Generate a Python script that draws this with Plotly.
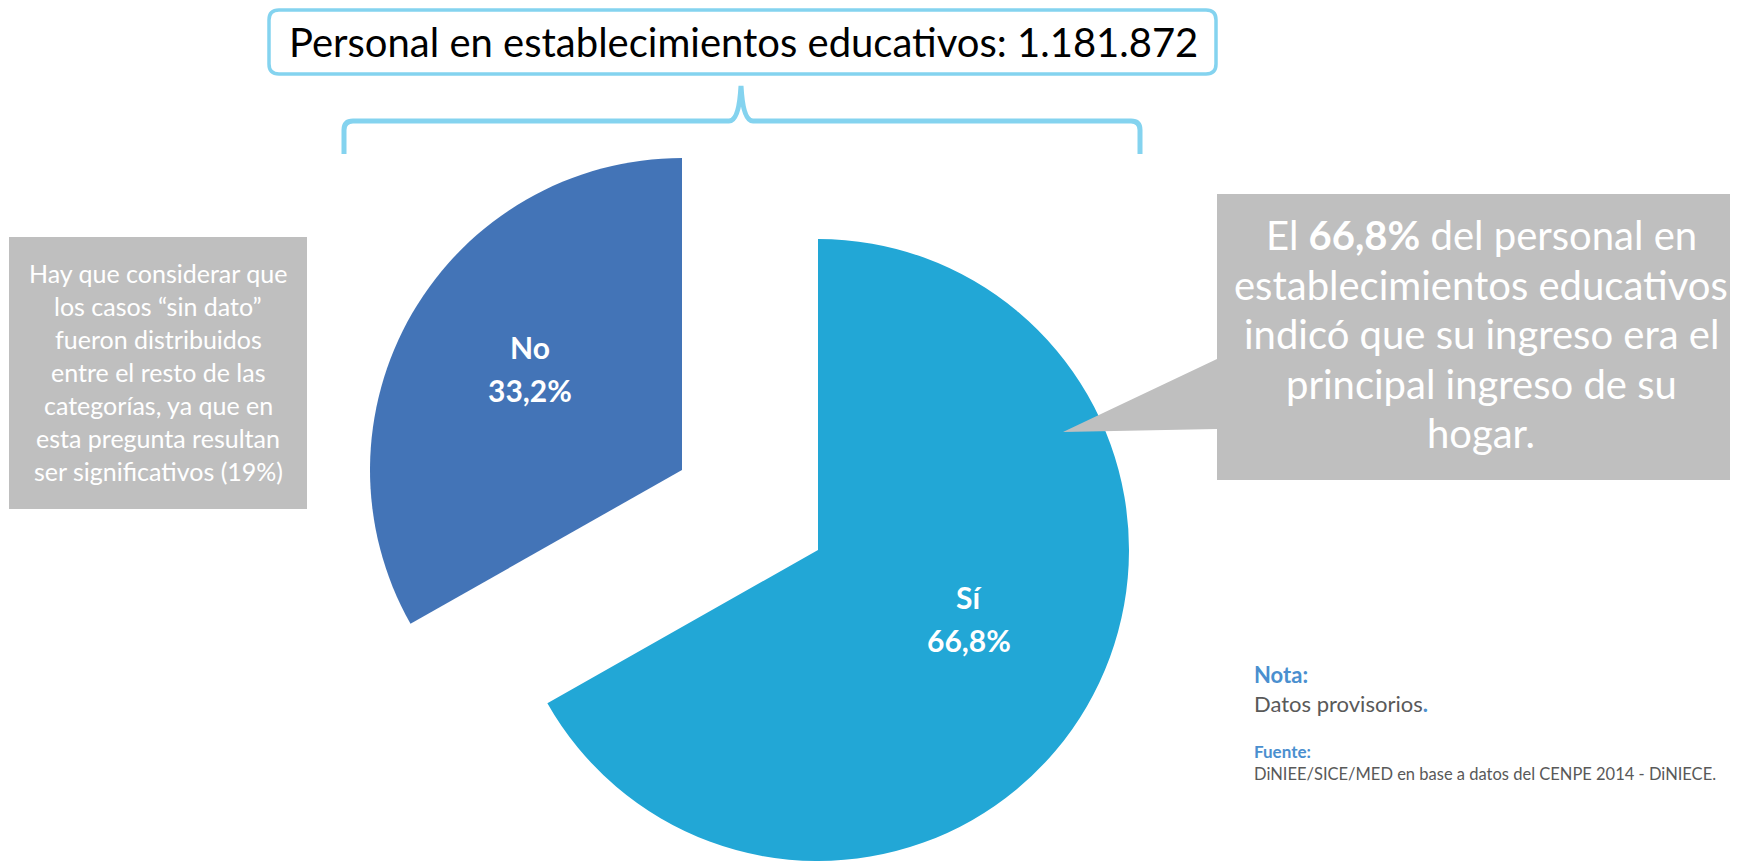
import plotly.graph_objects as go

# The page body has an 8px default margin: design in page pixels and shift.
OFF = 8
W, H = 1738 - OFF, 861 - OFF

# ---- data ----
categories = ["No", "Sí"]
values = [33.2, 66.8]
slice_colors = ["#4374b7", "#22a7d6"]
title_text = "Personal en establecimientos educativos: 1.181.872"
left_lines = [
    "Hay que considerar que",
    "los casos “sin dato”",
    "fueron distribuidos",
    "entre el resto de las",
    "categorías, ya que en",
    "esta pregunta resultan",
    "ser significativos (19%)",
]
right_lines = [
    "El <b>66,8%</b> del personal en",
    "establecimientos educativos",
    "indicó que su ingreso era el",
    "principal ingreso de su",
    "hogar.",
]
nota_title = "Nota:"
nota_text = "Datos provisorios"
fuente_title = "Fuente:"
fuente_text = "DiNIEE/SICE/MED en base a datos del CENPE 2014 - DiNIECE."


def px(x):
    return (x - OFF) / W


def py(y):
    return 1 - (y - OFF) / H


def path(points, close=True):
    s = "M " + " L ".join(f"{px(x):.5f},{py(y):.5f}" for x, y in points)
    return s + (" Z" if close else "")


FONT = "Lato"
BLUE_LINE = "#84d3ef"
GREY = "#bfbfbf"

fig = go.Figure()

total = sum(values)
# "No" starts at 12 o'clock and runs towards the left
start_rotation = -360 * values[0] / total

# Two pie traces drawn from the same data: each shows one exploded slice
pies = [
    # (visible slice index, center x, center y, radius, label x, label y) in page pixels
    (0, 682, 470, 312, 530, 347),
    (1, 818, 550, 311, 969, 597),
]
annotations = []
for idx, cx, cy, r, lx, ly in pies:
    cols = [c if i == idx else "rgba(0,0,0,0)" for i, c in enumerate(slice_colors)]
    fig.add_trace(go.Pie(
        labels=categories,
        values=values,
        sort=False,
        direction="clockwise",
        rotation=start_rotation,
        marker=dict(colors=cols, line=dict(width=0)),
        textinfo="none",
        hoverinfo="skip",
        showlegend=False,
        domain=dict(x=[px(cx - r), px(cx + r)], y=[max(0, py(cy + r)), min(1, py(cy - r))]),
    ))
    pct = f"{100 * values[idx] / total:.1f}".replace(".", ",") + "%"
    for j, t in enumerate([categories[idx], pct]):
        annotations.append(dict(text=f"<b>{t}</b>", x=px(lx), y=py(ly + j * 43), xref="paper", yref="paper",
                                showarrow=False, xanchor="center", yanchor="middle",
                                font=dict(family=FONT, size=30, color="white")))

shapes = []

# Title box (rounded)
x0, y0, x1, y1, rr = 269, 10, 1216, 74, 10
title_path = (
    f"M {px(x0+rr)},{py(y0)} L {px(x1-rr)},{py(y0)} Q {px(x1)},{py(y0)} {px(x1)},{py(y0+rr)} "
    f"L {px(x1)},{py(y1-rr)} Q {px(x1)},{py(y1)} {px(x1-rr)},{py(y1)} "
    f"L {px(x0+rr)},{py(y1)} Q {px(x0)},{py(y1)} {px(x0)},{py(y1-rr)} "
    f"L {px(x0)},{py(y0+rr)} Q {px(x0)},{py(y0)} {px(x0+rr)},{py(y0)} Z"
)
shapes.append(dict(type="path", path=title_path, xref="paper", yref="paper",
                   line=dict(color=BLUE_LINE, width=3.5), fillcolor="white", layer="above"))

# Brace
brace = (
    f"M {px(344)},{py(154)} L {px(344)},{py(130)} Q {px(344)},{py(121)} {px(353)},{py(121)} "
    f"L {px(729)},{py(121)} Q {px(739)},{py(121)} {px(741)},{py(86)} "
    f"Q {px(743)},{py(121)} {px(753)},{py(121)} "
    f"L {px(1131)},{py(121)} Q {px(1140)},{py(121)} {px(1140)},{py(130)} L {px(1140)},{py(154)}"
)
shapes.append(dict(type="path", path=brace, xref="paper", yref="paper",
                   line=dict(color=BLUE_LINE, width=5), layer="above"))

# Left grey box
shapes.append(dict(type="rect", xref="paper", yref="paper", x0=px(9), x1=px(307), y0=py(509), y1=py(237),
                   fillcolor=GREY, line=dict(width=0), layer="above"))

# Right callout with pointer
callout = path([(1217, 194), (1738, 194), (1738, 480), (1217, 480), (1217, 429),
                (1063, 432), (1217, 359)])
shapes.append(dict(type="path", path=callout, xref="paper", yref="paper",
                   fillcolor=GREY, line=dict(width=0), layer="above"))

annotations.append(dict(text=title_text, x=px(743), y=py(42), xref="paper", yref="paper",
                        showarrow=False, xanchor="center", yanchor="middle",
                        font=dict(family=FONT, size=40, color="black")))

for i, ln in enumerate(left_lines):
    annotations.append(dict(text=ln, x=px(158), y=py(273 + i * 33), xref="paper", yref="paper",
                            showarrow=False, xanchor="center", yanchor="middle",
                            font=dict(family=FONT, size=25, color="white")))

for i, ln in enumerate(right_lines):
    annotations.append(dict(text=ln, x=px(1481), y=py(235 + i * 49.5), xref="paper", yref="paper",
                            showarrow=False, xanchor="center", yanchor="middle",
                            font=dict(family=FONT, size=40, color="white")))

NOTE_BLUE = "#4a8fcf"
NOTE_X = 1252
annotations.append(dict(text=f"<b>{nota_title}</b>", x=px(NOTE_X), y=py(674), xref="paper", yref="paper",
                        showarrow=False, xanchor="left", yanchor="middle",
                        font=dict(family=FONT, size=22, color=NOTE_BLUE)))
annotations.append(dict(text=f"{nota_text}<b><span style='color:{NOTE_BLUE}'>.</span></b>",
                        x=px(NOTE_X), y=py(703), xref="paper", yref="paper",
                        showarrow=False, xanchor="left", yanchor="middle",
                        font=dict(family=FONT, size=22, color="#595959")))
annotations.append(dict(text=f"<b>{fuente_title}</b>", x=px(NOTE_X), y=py(751), xref="paper", yref="paper",
                        showarrow=False, xanchor="left", yanchor="middle",
                        font=dict(family=FONT, size=17, color=NOTE_BLUE)))
annotations.append(dict(text=fuente_text, x=px(NOTE_X), y=py(774), xref="paper", yref="paper",
                        showarrow=False, xanchor="left", yanchor="middle",
                        font=dict(family=FONT, size=16.5, color="#595959")))

fig.update_layout(
    width=W, height=H,
    margin=dict(l=0, r=0, t=0, b=0),
    paper_bgcolor="white", plot_bgcolor="white",
    separators=",.",
    shapes=shapes,
    annotations=annotations,
    font=dict(family=FONT),
)

fig.write_html("out.html")
